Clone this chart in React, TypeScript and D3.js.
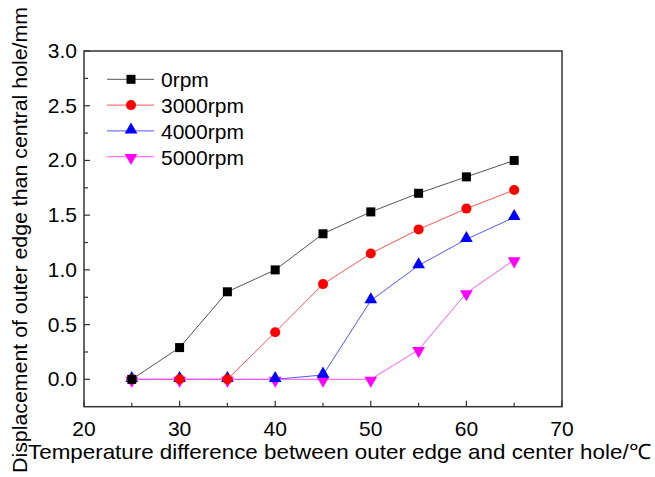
import React from "react";
import * as d3 from "d3";

const xValues = [25, 30, 35, 40, 45, 50, 55, 60, 65];
const rpm0 = [0, 0.29, 0.8, 1.0, 1.33, 1.53, 1.7, 1.85, 2.0];
const rpm3000 = [0, 0, 0, 0.43, 0.87, 1.15, 1.37, 1.56, 1.73];
const rpm4000 = [0, 0, 0, 0, 0.04, 0.72, 1.04, 1.28, 1.48];
const rpm5000 = [0, 0, 0, 0, 0, 0, 0.27, 0.79, 1.09];
const seriesNames = ["0rpm", "3000rpm", "4000rpm", "5000rpm"];
const xTicks = [20, 30, 40, 50, 60, 70];
const yTicks = [0, 0.5, 1.0, 1.5, 2.0, 2.5, 3.0];

const W = 655, H = 477;
const L = 84, R = 562, T = 51, B = 406.7;
const font = "Liberation Sans, Arial, sans-serif";

const colors = ["#000000", "#ff0000", "#0000ff", "#ff00ff"];
const lineColors = ["#555555", "#ff5555", "#5555ff", "#ff55ff"];
const shapes = ["square", "circle", "triangle", "down"];

function Marker({ shape, x, y, color }: { shape: string; x: number; y: number; color: string }) {
  if (shape === "square") return <rect x={x - 4.5} y={y - 4.5} width={9} height={9} fill={color} />;
  if (shape === "circle") return <circle cx={x} cy={y} r={5} fill={color} />;
  const sym = d3.symbol().type(d3.symbolTriangle).size(70)();
  return <path d={sym || ""} transform={`translate(${x},${y + (shape === "down" ? 1 : -1)}) rotate(${shape === "down" ? 180 : 0})`} fill={color} />;
}

export default function App() {
  const x = d3.scaleLinear().domain([20, 70]).range([L, R]);
  const y = d3.scaleLinear().domain([-0.25, 3.0]).range([B, T]);
  const data = [rpm0, rpm3000, rpm4000, rpm5000];
  const line = d3.line<number>().x((_, i) => x(xValues[i])).y((d) => y(d));
  const xMinor = d3.range(25, 70, 10);
  const yMinor = d3.range(-0.25, 3.0, 0.5).filter((v) => v > -0.2);
  return (
    <svg width={W} height={H} style={{ position: "absolute", left: 0, top: 0, background: "#fff" }}>
      <rect x={0} y={0} width={W} height={H} fill="#fff" />
      {data.map((s, k) => (
        <path key={k} d={line(s) || ""} fill="none" stroke={lineColors[k]} strokeWidth={1} />
      ))}
      {[3, 2, 1, 0].map((k) =>
        data[k].map((v, i) => <Marker key={`${k}-${i}`} shape={shapes[k]} x={x(xValues[i])} y={y(v)} color={colors[k]} />)
      )}
      <rect x={L} y={T} width={R - L} height={B - T} fill="none" stroke="#333" strokeWidth={1.5} />
      {xTicks.map((t) => (
        <g key={t}>
          <line x1={x(t)} x2={x(t)} y1={B} y2={B - 6} stroke="#333" strokeWidth={1.2} />
          <text x={x(t)} y={B + 29} textAnchor="middle" fontFamily={font} fontSize={21}>{t}</text>
        </g>
      ))}
      {xMinor.map((t) => (
        <line key={t} x1={x(t)} x2={x(t)} y1={B} y2={B - 4} stroke="#333" strokeWidth={1.2} />
      ))}
      {yTicks.map((t) => (
        <g key={t}>
          <line x1={L} x2={L + 6} y1={y(t)} y2={y(t)} stroke="#333" strokeWidth={1.2} />
          <text x={L - 7} y={y(t) + 7} textAnchor="end" fontFamily={font} fontSize={21}>{t.toFixed(1)}</text>
        </g>
      ))}
      {yMinor.map((t) => (
        <line key={t} x1={L} x2={L + 4} y1={y(t)} y2={y(t)} stroke="#333" strokeWidth={1.2} />
      ))}
      {seriesNames.map((n, k) => {
        const ly = 79.3 + k * 25.8;
        return (
          <g key={n}>
            <line x1={107} x2={154} y1={ly} y2={ly} stroke={lineColors[k]} strokeWidth={1} />
            <Marker shape={shapes[k]} x={131} y={ly} color={colors[k]} />
            <text x={161} y={ly + 8} fontFamily={font} fontSize={21}>{n}</text>
          </g>
        );
      })}
      <text x={28} y={459} textLength={623} lengthAdjust="spacingAndGlyphs" fontFamily={font} fontSize={21}>
        Temperature difference between outer edge and center hole/℃
      </text>
      <text transform={`translate(27,240) rotate(-90)`} textAnchor="middle" textLength={466} lengthAdjust="spacingAndGlyphs" fontFamily={font} fontSize={21}>
        Displacement of outer edge than central hole/mm
      </text>
    </svg>
  );
}
